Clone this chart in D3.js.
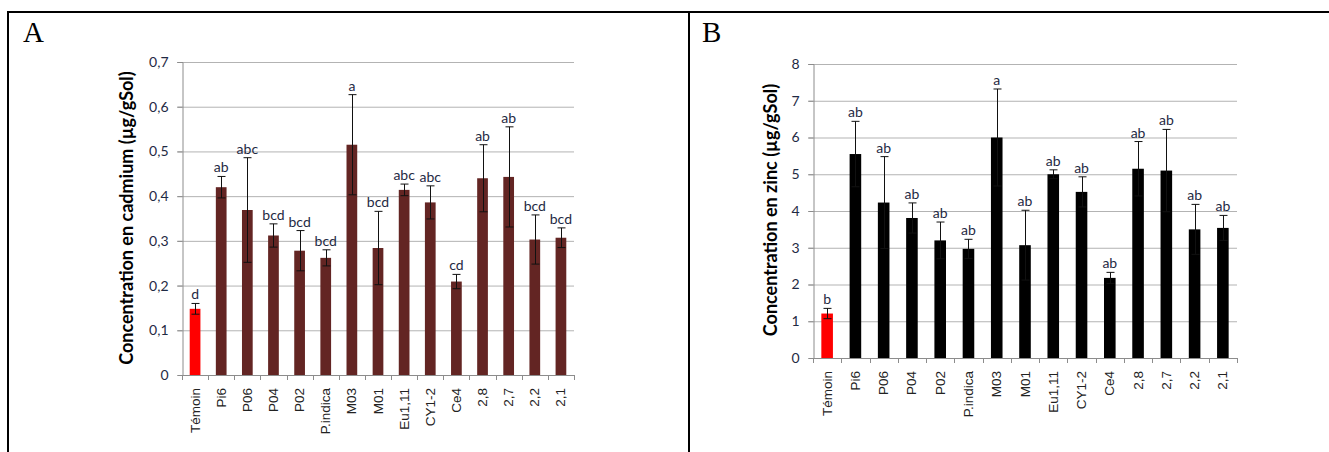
<!DOCTYPE html>
<html>
<head>
<meta charset="utf-8">
<script src="https://cdn.jsdelivr.net/npm/d3@7"></script>
<style>
  body { margin: 0; background: #fff; }
  svg { display: block; }
</style>
</head>
<body>
<div id="chart"></div>
<script>
const categories = ['Témoin', 'Pi6', 'P06', 'P04', 'P02', 'P.indica', 'M03', 'M01',
  'Eu1,11', 'CY1-2', 'Ce4', '2,8', '2,7', '2,2', '2,1'];

// A : cadmium
const cadmiumValues = [0.148, 0.420, 0.369, 0.312, 0.278, 0.262, 0.515, 0.284,
  0.414, 0.386, 0.209, 0.440, 0.443, 0.303, 0.307];
const cadmiumErrors = [0.012, 0.024, 0.117, 0.026, 0.045, 0.018, 0.112, 0.082,
  0.013, 0.037, 0.016, 0.075, 0.112, 0.055, 0.022];
const cadmiumLetters = ['d', 'ab', 'abc', 'bcd', 'bcd', 'bcd', 'a', 'bcd',
  'abc', 'abc', 'cd', 'ab', 'ab', 'bcd', 'bcd'];
const cadmiumTicks = [0, 0.1, 0.2, 0.3, 0.4, 0.5, 0.6, 0.7];

// B : zinc
const zincValues = [1.21, 5.55, 4.23, 3.81, 3.20, 2.97, 6.00, 3.07,
  5.00, 4.52, 2.18, 5.15, 5.10, 3.50, 3.54];
const zincErrors = [0.14, 0.89, 1.25, 0.41, 0.50, 0.26, 1.32, 0.95,
  0.12, 0.41, 0.15, 0.74, 1.12, 0.68, 0.34];
const zincLetters = ['b', 'ab', 'ab', 'ab', 'ab', 'ab', 'a', 'ab',
  'ab', 'ab', 'ab', 'ab', 'ab', 'ab', 'ab'];
const zincTicks = [0, 1, 2, 3, 4, 5, 6, 7, 8];

const W = 1329, H = 452;
const svg = d3.select('#chart').append('svg')
  .attr('width', W)
  .attr('height', H);

// frame
const frame = svg.append('g').attr('stroke', '#000').attr('stroke-width', 2);
frame.append('line').attr('x1', 7).attr('x2', W).attr('y1', 12).attr('y2', 12);
frame.append('line').attr('x1', 8).attr('x2', 8).attr('y1', 11).attr('y2', H);
frame.append('line').attr('x1', 689).attr('x2', 689).attr('y1', 11).attr('y2', H);

const fmt = v => v === 0 ? '0' : String(v).replace('.', ',');

function drawPanel(opt) {
  const g = svg.append('g');

  g.append('text')
    .attr('x', opt.letterX)
    .attr('y', 42)
    .attr('font-family', '"Liberation Serif", "DejaVu Serif", serif')
    .attr('font-size', 29)
    .attr('fill', '#000')
    .text(opt.panel);

  const x = d3.scaleBand()
    .domain(categories)
    .range([opt.left, opt.right]);

  const y = d3.scaleLinear()
    .domain([0, opt.max])
    .range([opt.bottom, opt.top]);

  // gridlines
  g.append('g').selectAll('line')
    .data(opt.ticks.filter(t => t > 0))
    .join('line')
    .attr('x1', opt.left - 5)
    .attr('x2', opt.right)
    .attr('y1', d => y(d) + 0.5)
    .attr('y2', d => y(d) + 0.5)
    .attr('stroke', '#b3b3b3')
    .attr('stroke-width', 1);

  // y axis
  const yAxis = g.append('g')
    .attr('transform', `translate(${opt.left + 0.5},0)`)
    .call(d3.axisLeft(y).tickValues(opt.ticks).tickFormat(fmt).tickSize(5).tickPadding(9));
  yAxis.select('.domain').attr('stroke', '#8c8c8c');
  yAxis.selectAll('.tick line').attr('stroke', '#8c8c8c');
  yAxis.selectAll('.tick text')
    .attr('font-family', 'Lato, "Open Sans", sans-serif')
    .attr('font-size', 14)
    .attr('fill', opt.tickColor);

  // bars
  const bw = x.bandwidth() * 0.41;
  g.append('g').selectAll('rect')
    .data(opt.values)
    .join('rect')
    .attr('x', (d, i) => x(categories[i]) + (x.bandwidth() - bw) / 2)
    .attr('y', d => y(d))
    .attr('width', bw)
    .attr('height', d => opt.bottom - y(d))
    .attr('fill', (d, i) => i === 0 ? '#ff0000' : opt.color);

  // error bars
  const err = g.append('g').attr('stroke', '#111').attr('stroke-width', 1);
  opt.values.forEach((v, i) => {
    const cx = Math.round(x(categories[i]) + x.bandwidth() / 2) + 0.5;
    const hi = y(v + opt.errors[i]);
    const lo = y(v - opt.errors[i]);
    err.append('line').attr('x1', cx).attr('x2', cx).attr('y1', hi).attr('y2', lo);
    err.append('line').attr('x1', cx - 4).attr('x2', cx + 4).attr('y1', hi).attr('y2', hi);
    err.append('line').attr('x1', cx - 4).attr('x2', cx + 4).attr('y1', lo).attr('y2', lo);
  });

  // significance letters
  g.append('g').selectAll('text')
    .data(opt.letters)
    .join('text')
    .attr('x', (d, i) => x(categories[i]) + x.bandwidth() / 2)
    .attr('y', (d, i) => y(opt.values[i] + opt.errors[i]) - 4)
    .attr('text-anchor', 'middle')
    .attr('font-family', 'Lato, "Open Sans", sans-serif')
    .attr('font-size', 14)
    .attr('fill', opt.tickColor)
    .text(d => d);

  // x axis
  g.append('line')
    .attr('x1', opt.left).attr('x2', opt.right)
    .attr('y1', opt.bottom + 0.5).attr('y2', opt.bottom + 0.5)
    .attr('stroke', '#8c8c8c');
  g.append('g').selectAll('line')
    .data(d3.range(categories.length + 1))
    .join('line')
    .attr('x1', i => Math.round(opt.left + i * x.step()) + 0.5)
    .attr('x2', i => Math.round(opt.left + i * x.step()) + 0.5)
    .attr('y1', opt.bottom)
    .attr('y2', opt.bottom + 5)
    .attr('stroke', '#8c8c8c');

  g.append('g').selectAll('text')
    .data(categories)
    .join('text')
    .attr('transform', d => `translate(${x(d) + x.bandwidth() / 2 + 4.5},${opt.bottom + 13}) rotate(-90)`)
    .attr('text-anchor', 'end')
    .attr('font-family', '"Liberation Sans", Arial, sans-serif')
    .attr('font-size', 13.5)
    .attr('fill', '#222')
    .text(d => d);

  // y title
  g.append('text')
    .attr('transform', `translate(${opt.titleX},${opt.titleY}) rotate(-90)`)
    .attr('text-anchor', 'middle')
    .attr('font-family', 'Lato, "Open Sans", sans-serif')
    .attr('font-weight', 'bold')
    .attr('font-size', 18)
    .attr('fill', '#000')
    .text(opt.title);
}

drawPanel({
  panel: 'A', letterX: 23,
  left: 182, right: 574, top: 62, bottom: 375, max: 0.7,
  ticks: cadmiumTicks, values: cadmiumValues, errors: cadmiumErrors, letters: cadmiumLetters,
  color: '#632523', tickColor: '#1f2a44',
  title: 'Concentration en cadmium (µg/gSol)', titleX: 133, titleY: 218
});

drawPanel({
  panel: 'B', letterX: 702,
  left: 813, right: 1237, top: 64, bottom: 358, max: 8,
  ticks: zincTicks, values: zincValues, errors: zincErrors, letters: zincLetters,
  color: '#000000', tickColor: '#1f2a44',
  title: 'Concentration en zinc (µg/gSol)', titleX: 777, titleY: 210
});
</script>
</body>
</html>
